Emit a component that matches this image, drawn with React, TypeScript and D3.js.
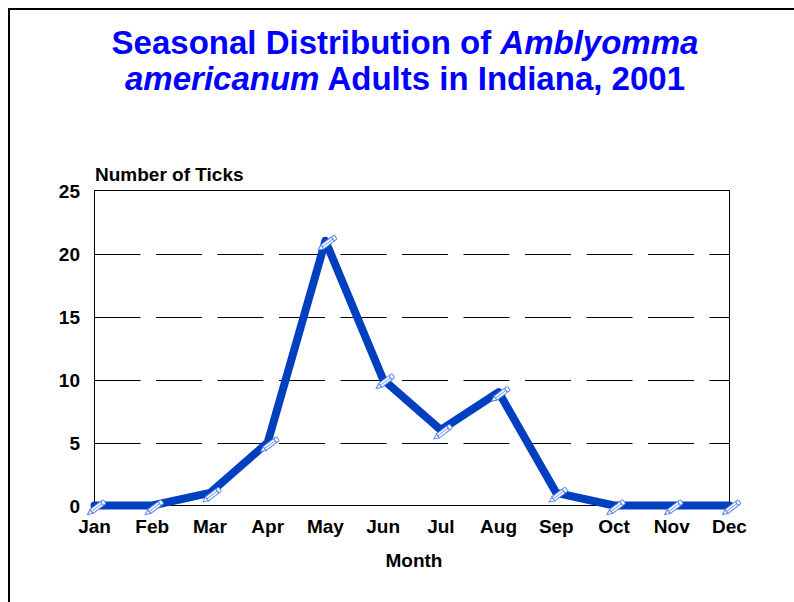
import React from "react";
import * as d3 from "d3";

const months = ["Jan", "Feb", "Mar", "Apr", "May", "Jun", "Jul", "Aug", "Sep", "Oct", "Nov", "Dec"];
const tickCounts = [0, 0, 1, 5, 21, 10, 6, 9, 1, 0, 0, 0];
const yTicks = [0, 5, 10, 15, 20, 25];

const W = 794;
const H = 602;
const plot = { left: 94.5, top: 190.5, right: 729.5, bottom: 505.5 };
const FONT = "'Liberation Sans', Arial, Helvetica, sans-serif";
const LABEL_SIZE = 19;

function Pencil({ x, y }: { x: number; y: number }) {
  // small pencil glyph drawn along its local x axis, tip at origin
  return (
    <g transform={`translate(${x - 7},${y + 9}) rotate(-37)`} fill="#ffffff" stroke="#5a88ea" strokeWidth={1}>
      <path d="M0,0 L5,-2.5 L5,2.5 Z" />
      <rect x={5} y={-2.5} width={13} height={5} />
      <line x1={5} y1={0} x2={18} y2={0} strokeWidth={0.8} />
      <rect x={18} y={-2.5} width={3.5} height={5} rx={1.5} />
    </g>
  );
}

export default function App() {
  const x = d3
    .scalePoint<string>()
    .domain(months)
    .range([plot.left, plot.right]);
  const y = d3.scaleLinear().domain([0, 25]).range([plot.bottom, plot.top]);

  const line = d3
    .line<number>()
    .x((_, i) => x(months[i]) as number)
    .y((d) => y(d));

  return (
    <svg
      width={W}
      height={H}
      style={{ position: "absolute", left: 0, top: 0, background: "#fff" }}
      fontFamily={FONT}
    >
      <rect x={9} y={9} width={820} height={640} fill="#fff" stroke="#000" strokeWidth={2} />

      <text x={405} y={54} textAnchor="middle" fill="#0000ff" fontSize={33} fontWeight="bold">
        Seasonal Distribution of <tspan fontStyle="italic">Amblyomma</tspan>
      </text>
      <text x={405} y={90} textAnchor="middle" fill="#0000ff" fontSize={33} fontWeight="bold">
        <tspan fontStyle="italic">americanum</tspan> Adults in Indiana, 2001
      </text>

      {/* dashed gridlines */}
      {yTicks
        .filter((t) => t > 0 && t < 25)
        .map((t) => (
          <line
            key={t}
            x1={plot.left}
            x2={plot.right}
            y1={Math.round(y(t)) + 0.5}
            y2={Math.round(y(t)) + 0.5}
            stroke="#000"
            strokeWidth={1}
            strokeDasharray="46 15.5"
          />
        ))}

      <rect
        x={plot.left}
        y={plot.top}
        width={plot.right - plot.left}
        height={plot.bottom - plot.top}
        fill="none"
        stroke="#000"
        strokeWidth={1}
      />

      {/* y tick labels */}
      {yTicks.map((t) => (
        <text key={t} x={80} y={y(t) + 7} textAnchor="end" fontSize={LABEL_SIZE} fontWeight="bold" fill="#000">
          {t}
        </text>
      ))}
      <text x={95} y={181} fontSize={LABEL_SIZE} fontWeight="bold" fill="#000">
        Number of Ticks
      </text>

      {/* x tick labels */}
      {months.map((m) => (
        <text key={m} x={x(m)} y={533} textAnchor="middle" fontSize={LABEL_SIZE} fontWeight="bold" fill="#000">
          {m}
        </text>
      ))}
      <text x={414} y={567} textAnchor="middle" fontSize={LABEL_SIZE} fontWeight="bold" fill="#000">
        Month
      </text>

      <path
        d={line(tickCounts) ?? ""}
        fill="none"
        stroke="#0040c0"
        strokeWidth={8}
        strokeLinejoin="round"
        strokeLinecap="round"
      />

      {tickCounts.map((v, i) => (
        <Pencil key={months[i]} x={x(months[i]) as number} y={y(v)} />
      ))}
    </svg>
  );
}
